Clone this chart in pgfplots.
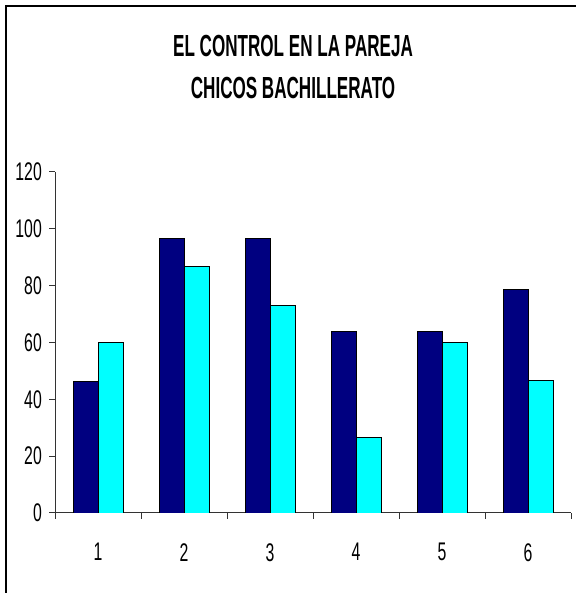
\documentclass[border=0pt]{standalone}
\usepackage{fontspec}
\setmainfont{Liberation Sans}
\newfontfamily\titlefont{Liberation Sans}[FakeStretch=0.56]
\newfontfamily\tickfont{Liberation Sans}[FakeStretch=0.62]
\usepackage{pgfplots}
\pgfplotsset{compat=1.18}
\definecolor{navyb}{HTML}{000080}
\definecolor{cyanb}{HTML}{00FFFF}
\begin{document}
\begin{tikzpicture}
\begin{axis}[
  at={(55pt,80pt)}, anchor=south west,
  scale only axis, width=516pt, height=341pt,
  xmin=0.5, xmax=6.5, ymin=0, ymax=120,
  axis x line*=bottom, axis y line*=left,
  axis line style={-, line width=1pt, black!80},
  tick style={black!80, line width=1pt},
  tick align=outside,
  major tick length=6pt,
  ytick={0,20,...,120},
  xtick={0.5,1.5,...,6.5},
  xticklabels={1,2,3,4,5,6},
  x tick label as interval,
  /pgf/number format/assume math mode=true,
  tick label style={font=\tickfont\fontsize{25.5}{26}\selectfont, inner sep=0pt},
  yticklabel style={anchor=east, xshift=-7pt},
  xticklabel style={anchor=north, yshift=-24pt},
]
\addplot[ybar, fill=navyb, draw=black, line width=0.8pt, bar width=0.29, bar shift=-0.145] coordinates {(1,46.4)(2,96.5)(3,96.5)(4,64)(5,64)(6,78.6)};
\addplot[ybar, fill=cyanb, draw=black, line width=0.8pt, bar width=0.29, bar shift=0.145] coordinates {(1,60)(2,86.9)(3,73.1)(4,26.7)(5,60)(6,46.8)};
\end{axis}
\path[use as bounding box] (0pt,0pt) rectangle (575pt,593pt);
\draw[line width=2pt] (6pt,-10pt) -- (6pt,587pt) -- (585pt,587pt);
\node[anchor=base, inner sep=0pt, font=\titlefont\bfseries\fontsize{30.5}{31}\selectfont] at (293pt,536pt) {EL CONTROL EN LA PAREJA};
\node[anchor=base, inner sep=0pt, font=\titlefont\bfseries\fontsize{30.5}{31}\selectfont] at (293pt,494pt) {CHICOS BACHILLERATO};
\end{tikzpicture}
\end{document}
